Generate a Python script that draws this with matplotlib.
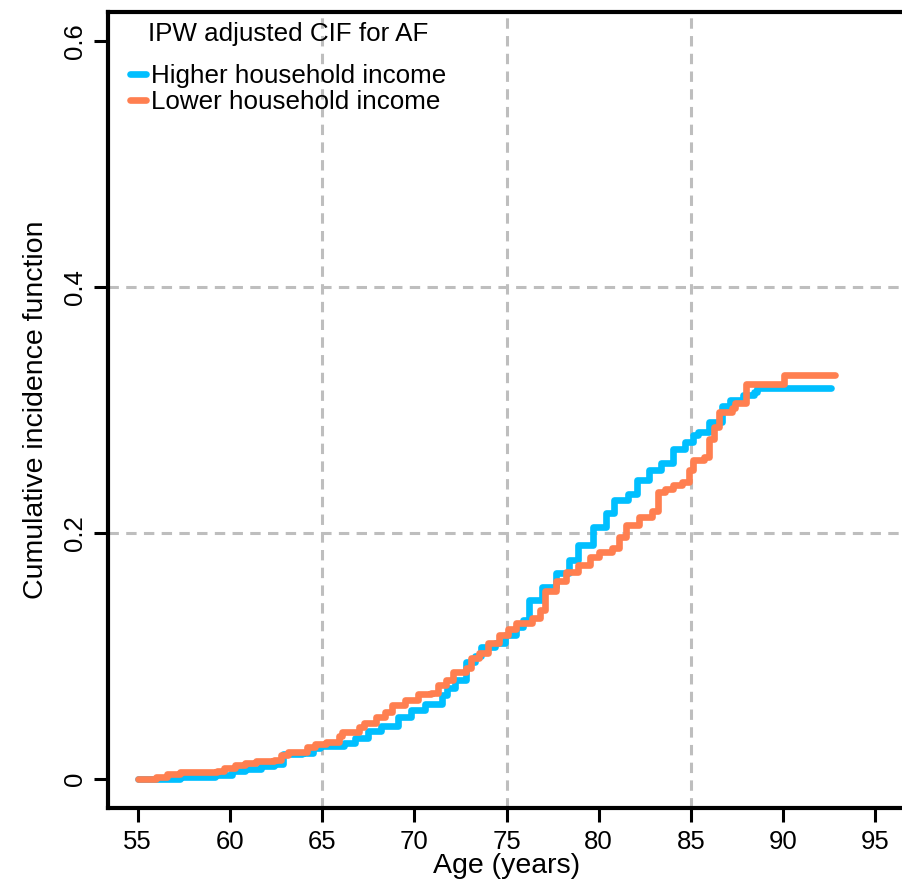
import matplotlib
matplotlib.use("Agg")
import matplotlib.pyplot as plt

plt.rcParams['font.family'] = ['Liberation Sans', 'DejaVu Sans']

# step curves (age, cumulative incidence)
age_high = [55.0, 57.3, 58.1, 59.2, 60.1, 60.8, 61.7, 62.4, 62.9, 63.9, 64.5, 64.9,
            66.2, 66.8, 67.5, 68.2, 69.1, 69.8, 70.6, 71.5, 71.8, 72.2, 72.8, 73.3,
            73.6, 74.4, 74.9, 75.5, 75.9, 76.2, 76.9, 77.7, 78.4, 78.9, 79.7, 80.4,
            80.8, 81.6, 82.1, 82.7, 83.4, 84.0, 84.7, 85.1, 85.4, 86.0, 86.7, 87.1,
            87.8, 88.4, 88.6, 92.6]
cif_high = [0.000, 0.001, 0.0016, 0.0025, 0.0065, 0.008, 0.0098, 0.012, 0.020, 0.021, 0.0245, 0.0265,
            0.029, 0.0326, 0.039, 0.043, 0.0497, 0.0554, 0.061, 0.0677, 0.0734, 0.080, 0.0946, 0.100,
            0.107, 0.110, 0.1166, 0.123, 0.129, 0.145, 0.156, 0.167, 0.178, 0.190, 0.205, 0.216,
            0.227, 0.232, 0.243, 0.251, 0.257, 0.268, 0.274, 0.280, 0.282, 0.290, 0.303, 0.308,
            0.312, 0.315, 0.3177, 0.3177]

age_low = [55.0, 56.0, 56.6, 57.3, 58.1, 59.3, 59.7, 60.3, 60.8, 61.4, 62.4, 62.8,
           63.15, 64.2, 64.6, 65.2, 65.9, 66.1, 67.0, 67.3, 67.9, 68.4, 68.8, 69.5,
           70.2, 70.9, 71.3, 71.7, 72.1, 72.8, 73.1, 73.5, 74.0, 74.6, 75.1, 75.5,
           76.4, 76.8, 77.1, 77.7, 78.2, 78.9, 79.5, 80.0, 80.7, 81.1, 81.5, 82.2,
           82.9, 83.2, 83.6, 84.0, 84.5, 84.9, 85.1, 85.7, 86.0, 86.25, 86.5, 87.2,
           87.4, 88.0, 90.05, 92.8]
cif_low = [0.000, 0.0016, 0.0033, 0.0049, 0.0057, 0.0065, 0.0082, 0.0114, 0.013, 0.0139, 0.0147, 0.0188,
           0.0212, 0.0253, 0.0285, 0.030, 0.035, 0.0375, 0.0416, 0.0456, 0.0497, 0.054, 0.0595, 0.0636,
           0.069, 0.070, 0.0758, 0.080, 0.0864, 0.0897, 0.0978, 0.102, 0.110, 0.117, 0.122, 0.127,
           0.131, 0.137, 0.153, 0.161, 0.168, 0.174, 0.180, 0.184, 0.188, 0.197, 0.206, 0.213,
           0.218, 0.233, 0.236, 0.239, 0.241, 0.251, 0.259, 0.262, 0.276, 0.286, 0.298, 0.302,
           0.306, 0.321, 0.3286, 0.3286]

x_ticks = [55, 60, 65, 70, 75, 80, 85, 90, 95]
y_ticks = [0, 0.2, 0.4, 0.6]
y_ticklabels = ['0', '0.2', '0.4', '0.6']
grid_v = [65, 75, 85]
grid_h = [0.2, 0.4]

blue = '#00BFFF'
orange = '#FF7F50'

fig = plt.figure(figsize=(9.02, 8.82), dpi=100)
ax = fig.add_axes([108 / 902, 74 / 882, 797 / 902, 796 / 882])

ax.set_xlim(53.4, 96.6)
ax.set_ylim(-0.024, 0.624)

for v in grid_v:
    ax.axvline(v, color='#BEBEBE', lw=2.2, dashes=(3.4, 2.4), zorder=1)
for h in grid_h:
    ax.axhline(h, color='#BEBEBE', lw=2.2, dashes=(3.4, 2.4), zorder=1)

ax.step(age_high, cif_high, where='post', color=blue, lw=4.8,
        solid_capstyle='round', label='Higher household income', zorder=3)
ax.step(age_low, cif_low, where='post', color=orange, lw=4.8,
        solid_capstyle='round', label='Lower household income', zorder=4)

ax.set_xticks(x_ticks)
ax.set_yticks(y_ticks)
ax.set_yticklabels(y_ticklabels, rotation=90, va='center')
ax.tick_params(axis='both', direction='out', length=10, width=2.2,
               labelsize=18.5)
ax.tick_params(axis='x', pad=6)
ax.tick_params(axis='y', pad=5)

for s in ['left', 'bottom', 'top']:
    ax.spines[s].set_linewidth(3)
ax.spines['right'].set_linewidth(1)
ax.spines['right'].set_color('#888888')

ax.set_xlabel('Age (years)', fontsize=20.5, labelpad=-1)
ax.set_ylabel('Cumulative incidence function', fontsize=20.5, labelpad=10)

leg = ax.legend(title='IPW adjusted CIF for AF', loc='upper left',
                bbox_to_anchor=(0.0276, 0.988), frameon=False, fontsize=18.7,
                title_fontsize=18.7, handlelength=0.6, handletextpad=0.2,
                labelspacing=0.1, borderpad=0, borderaxespad=0)
leg._legend_box.sep = 13

fig.savefig('out.png', dpi=100)
